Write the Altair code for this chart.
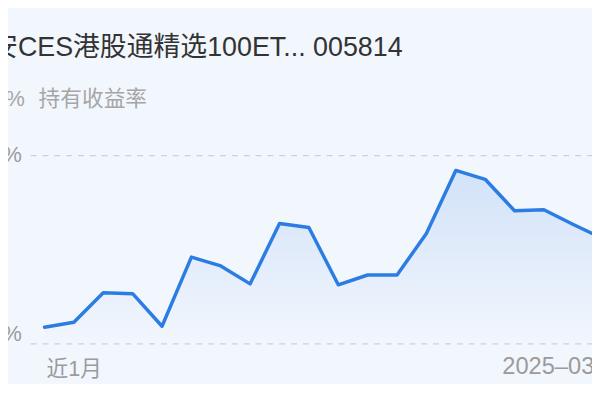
import altair as alt
import pandas as pd

# ---- data ----
idx = list(range(20))
ret = [0.89, 1.15, 2.72, 2.67, 0.94, 4.61, 4.14, 3.19, 6.39, 6.18,
       3.14, 3.66, 3.66, 5.86, 9.21, 8.74, 7.07, 7.12, 6.34, 5.60]
grid_vals = [0, 10]
y_labels = ["0.00%", "10.00%"]
x_label_left = "近1月"
x_label_right = "2025–03–10"
title_text = "安CES港股通精选100ET... 005814"
sub_value = "+5.60%"
sub_label = "持有收益率"

W, H = 592, 376
BG = "#f2f6fd"
BLUE = "#2b7de3"
GRAY = "#9b9b9b"
FONT = "Liberation Sans, Noto Sans CJK SC, sans-serif"

df = pd.DataFrame({"i": idx, "r": ret})
grid_df = pd.DataFrame({"v": grid_vals, "label": y_labels})

xs = alt.Scale(domain=[-1.2425, 18.637], nice=False, zero=False)
ys = alt.Scale(domain=[-1.990, 17.696], nice=False, zero=False)
X = alt.X("i:Q", scale=xs, axis=None)
Y = alt.Y("r:Q", scale=ys, axis=None)

grid = alt.Chart(grid_df).mark_rule(color="#cdd1d8", strokeWidth=1.2, strokeDash=[6, 6]).encode(
    y=alt.Y("v:Q", scale=ys, axis=None),
    x=alt.value(23),
    x2=alt.value(W),
)

area = alt.Chart(df).mark_area(
    clip=True,
    color=alt.Gradient(
        gradient="linear",
        stops=[alt.GradientStop(color="rgba(43,125,227,0.16)", offset=0),
               alt.GradientStop(color="rgba(43,125,227,0.0)", offset=1)],
        x1=0, x2=0, y1=0, y2=1,
    ),
).encode(x=X, y=Y, y2=alt.Y2(datum=0))

line = alt.Chart(df).mark_line(
    clip=True, color=BLUE, strokeWidth=3.5, strokeCap="round", strokeJoin="round"
).encode(x=X, y=Y)

ylab_top = alt.Chart(grid_df).transform_filter(alt.datum.v == 10).mark_text(
    align="right", baseline="middle", fontSize=22, font=FONT, color=GRAY
).encode(y=alt.Y("v:Q", scale=ys, axis=None), x=alt.value(14), text="label:N")

ylab_bot = alt.Chart(grid_df).transform_filter(alt.datum.v == 0).mark_text(
    align="right", baseline="middle", fontSize=22, font=FONT, color=GRAY, dy=-10
).encode(y=alt.Y("v:Q", scale=ys, axis=None), x=alt.value(14), text="label:N")

xl_df = pd.DataFrame({"a": [x_label_left], "b": [x_label_right]})
xlab1 = alt.Chart(xl_df).mark_text(
    align="left", baseline="middle", fontSize=22, font=FONT, color=GRAY
).encode(x=alt.value(39), y=alt.value(363), text="a:N")
xlab2 = alt.Chart(xl_df).mark_text(
    align="left", baseline="middle", fontSize=24, font=FONT, color=GRAY
).encode(x=alt.value(501), y=alt.value(361), text="b:N")

title_df = pd.DataFrame({"t": [title_text]})
title = alt.Chart(title_df).mark_text(
    align="right", baseline="middle", fontSize=27.2, font=FONT, color="#333333"
).encode(x=alt.value(400), y=alt.value(38), text="t:N")

sub_df = pd.DataFrame({"a": [sub_value], "b": [sub_label]})
sub1 = alt.Chart(sub_df).mark_text(
    align="right", baseline="middle", fontSize=22, font=FONT, color="#a6a6a6"
).encode(x=alt.value(17), y=alt.value(90), text="a:N")
sub2 = alt.Chart(sub_df).mark_text(
    align="left", baseline="middle", fontSize=22, font=FONT, color="#a6a6a6"
).encode(x=alt.value(31), y=alt.value(90), text="b:N")

chart = alt.layer(grid, area, line, ylab_top, ylab_bot, xlab1, xlab2, title, sub1, sub2).properties(
    width=W, height=H,
    autosize=alt.AutoSizeParams(type="none"),
    padding={"left": 0, "right": 0, "top": 0, "bottom": 0},
    background=BG,
).configure_view(stroke=None)

chart.save("out.html", embed_options={"renderer": "svg", "actions": False})
